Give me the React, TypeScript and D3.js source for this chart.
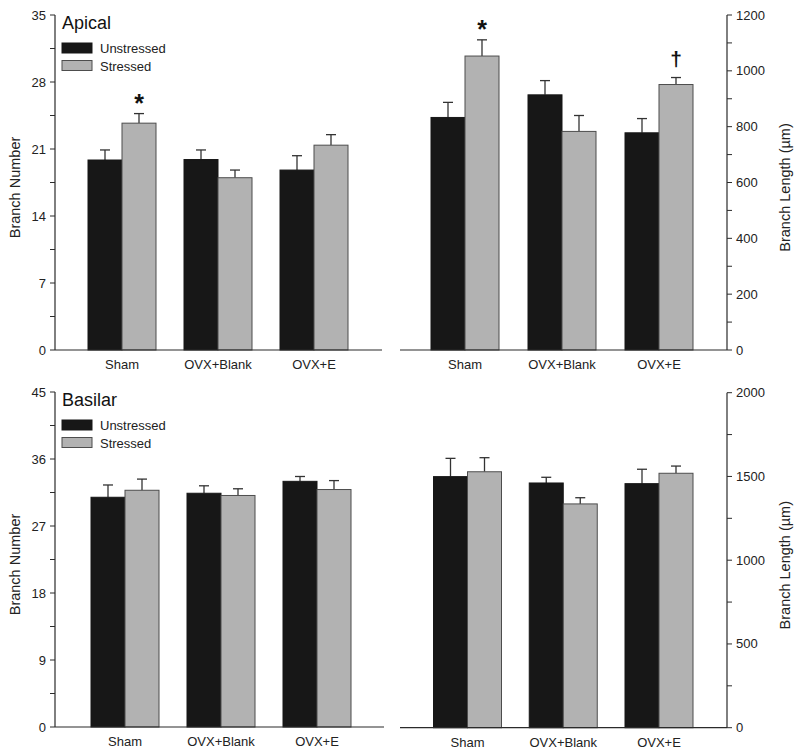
import React from "react";
import * as d3 from "d3";

const groups = ["Sham", "OVX+Blank", "OVX+E"];
const seriesNames = ["Unstressed", "Stressed"];

// Apical branch number
const apNumUnstressed = [19.85, 19.9, 18.8];
const apNumUnstressedErr = [1.05, 1.0, 1.5];
const apNumStressed = [23.7, 18.0, 21.4];
const apNumStressedErr = [1.0, 0.8, 1.1];
const apNumTicks = [0, 7, 14, 21, 28, 35];

// Apical branch length
const apLenUnstressed = [833, 914, 778];
const apLenUnstressedErr = [54, 51, 51];
const apLenStressed = [1053, 783, 951];
const apLenStressedErr = [58, 57, 25];
const apLenTicks = [0, 200, 400, 600, 800, 1000, 1200];

// Basilar branch number
const baNumUnstressed = [30.86, 31.4, 33.0];
const baNumUnstressedErr = [1.65, 1.0, 0.65];
const baNumStressed = [31.8, 31.1, 31.9];
const baNumStressedErr = [1.5, 0.9, 1.2];
const baNumTicks = [0, 9, 18, 27, 36, 45];

// Basilar branch length
const baLenUnstressed = [1499, 1461, 1457];
const baLenUnstressedErr = [109, 34, 86];
const baLenStressed = [1528, 1336, 1519];
const baLenStressedErr = [84, 37, 43];
const baLenTicks = [0, 500, 1000, 1500, 2000];

const FONT = "Liberation Sans, Arial, Helvetica, sans-serif";
const BLACK = "#171717";
const GRAY = "#b2b2b2";
const OUTLINE = "#4d4d4d";
const AXIS = "#2b2b2b";

type Annot = { group: number; series: number; text: string; size: number; dy: number };

type PanelProps = {
  side: "left" | "right";
  axisX: number;
  lineX0: number;
  lineX1: number;
  yTop: number;
  yBottom: number;
  centers: [number, number];
  ticks: number[];
  minorStep: number;
  unstressed: number[];
  unstressedErr: number[];
  stressed: number[];
  stressedErr: number[];
  yTitle: string;
  yTitleX: number;
  title?: string;
  legend?: boolean;
  annots?: Annot[];
};

function Panel(p: PanelProps) {
  const max = p.ticks[p.ticks.length - 1];
  const y = d3.scaleLinear().domain([0, max]).range([p.yBottom, p.yTop]);
  const x = d3.scaleLinear().domain([0, groups.length - 1]).range(p.centers);
  const bw = 34;
  const minor = d3.range(0, max + 1e-9, p.minorStep);
  const dir = p.side === "left" ? -1 : 1;
  const tickLen = 5;
  const midY = (p.yTop + p.yBottom) / 2;
  const series = [
    { v: p.unstressed, e: p.unstressedErr, fill: BLACK, off: -1 },
    { v: p.stressed, e: p.stressedErr, fill: GRAY, off: 0 },
  ];
  return (
    <g>
      {series.map((s, si) =>
        groups.map((g, gi) => {
          const x0 = x(gi) + s.off * bw;
          const top = y(s.v[gi]);
          const errTop = y(s.v[gi] + s.e[gi]);
          const cx = x0 + bw / 2;
          return (
            <g key={`${si}-${gi}`}>
              <line x1={cx} x2={cx} y1={top} y2={errTop} stroke="#333" strokeWidth={1.3} />
              <line x1={cx - 5} x2={cx + 5} y1={errTop} y2={errTop} stroke="#333" strokeWidth={1.3} />
              <rect
                x={x0}
                y={top}
                width={bw}
                height={p.yBottom - top}
                fill={s.fill}
                stroke={si === 0 ? BLACK : OUTLINE}
                strokeWidth={1}
              />
            </g>
          );
        })
      )}
      {(p.annots || []).map((a, i) => {
        const s = series[a.series];
        const cx = x(a.group) + s.off * bw + bw / 2;
        const yy = y(s.v[a.group] + s.e[a.group]) - a.dy;
        return (
          <text key={i} x={cx} y={yy} textAnchor="middle" fontSize={a.size} fontWeight="bold" fontFamily={FONT} fill="#111">
            {a.text}
          </text>
        );
      })}
      <line x1={p.lineX0} x2={p.lineX1} y1={p.yBottom} y2={p.yBottom} stroke={AXIS} strokeWidth={1.2} />
      <line x1={p.axisX} x2={p.axisX} y1={p.yTop} y2={p.yBottom} stroke={AXIS} strokeWidth={1.2} />
      {minor.map((t, i) => (
        <line
          key={`m${i}`}
          x1={p.axisX}
          x2={p.axisX + dir * tickLen}
          y1={y(t)}
          y2={y(t)}
          stroke={AXIS}
          strokeWidth={1}
        />
      ))}
      {p.ticks.map((t, i) => (
        <text
          key={`t${i}`}
          x={p.axisX + dir * 9}
          y={y(t) + 4.5}
          textAnchor={p.side === "left" ? "end" : "start"}
          fontSize={13}
          fontFamily={FONT}
          fill="#222"
        >
          {t}
        </text>
      ))}
      {groups.map((g, gi) => (
        <text
          key={`x${gi}`}
          x={x(gi)}
          y={p.yBottom + 19}
          textAnchor="middle"
          fontSize={13}
          fontFamily={FONT}
          fill="#222"
        >
          {g}
        </text>
      ))}
      <text
        transform={`translate(${p.yTitleX},${midY + 5}) rotate(-90)`}
        textAnchor="middle"
        fontSize={14.5}
        fontFamily={FONT}
        fill="#222"
      >
        {p.yTitle}
      </text>
      {p.title && (
        <text x={p.axisX + 7} y={p.yTop + 14} fontSize={18} fontFamily={FONT} fill="#111">
          {p.title}
        </text>
      )}
      {p.legend &&
        seriesNames.map((n, i) => (
          <g key={n}>
            <rect
              x={p.axisX + 7}
              y={p.yTop + 28 + i * 17.5}
              width={30}
              height={10}
              fill={i === 0 ? BLACK : GRAY}
              stroke={i === 0 ? BLACK : OUTLINE}
              strokeWidth={1}
            />
            <text x={p.axisX + 45} y={p.yTop + 38 + i * 17.5} fontSize={13} fontFamily={FONT} fill="#222">
              {n}
            </text>
          </g>
        ))}
    </g>
  );
}

export default function App() {
  return (
    <svg width={800} height={754} style={{ display: "block", position: "absolute", left: 0, top: 0, background: "#fff" }}>
      <rect width={800} height={754} fill="#fff" />
      <Panel
        side="left"
        axisX={55}
        lineX0={55}
        lineX1={382}
        yTop={15}
        yBottom={350}
        centers={[122, 314]}
        ticks={apNumTicks}
        minorStep={3.5}
        unstressed={apNumUnstressed}
        unstressedErr={apNumUnstressedErr}
        stressed={apNumStressed}
        stressedErr={apNumStressedErr}
        yTitle="Branch Number"
        yTitleX={20}
        title="Apical"
        legend
        annots={[{ group: 0, series: 1, text: "*", size: 25, dy: 2 }]}
      />
      <Panel
        side="right"
        axisX={727}
        lineX0={400}
        lineX1={727}
        yTop={15}
        yBottom={350}
        centers={[465, 659]}
        ticks={apLenTicks}
        minorStep={100}
        unstressed={apLenUnstressed}
        unstressedErr={apLenUnstressedErr}
        stressed={apLenStressed}
        stressedErr={apLenStressedErr}
        yTitle="Branch Length (µm)"
        yTitleX={790}
        annots={[
          { group: 0, series: 1, text: "*", size: 25, dy: 2 },
          { group: 2, series: 1, text: "†", size: 21, dy: 12 },
        ]}
      />
      <Panel
        side="left"
        axisX={55}
        lineX0={55}
        lineX1={384}
        yTop={392}
        yBottom={727}
        centers={[125, 317]}
        ticks={baNumTicks}
        minorStep={4.5}
        unstressed={baNumUnstressed}
        unstressedErr={baNumUnstressedErr}
        stressed={baNumStressed}
        stressedErr={baNumStressedErr}
        yTitle="Branch Number"
        yTitleX={20}
        title="Basilar"
        legend
      />
      <Panel
        side="right"
        axisX={727}
        lineX0={400}
        lineX1={727}
        yTop={392.7}
        yBottom={727.7}
        centers={[467.5, 659]}
        ticks={baLenTicks}
        minorStep={250}
        unstressed={baLenUnstressed}
        unstressedErr={baLenUnstressedErr}
        stressed={baLenStressed}
        stressedErr={baLenStressedErr}
        yTitle="Branch Length (µm)"
        yTitleX={790}
      />
    </svg>
  );
}
